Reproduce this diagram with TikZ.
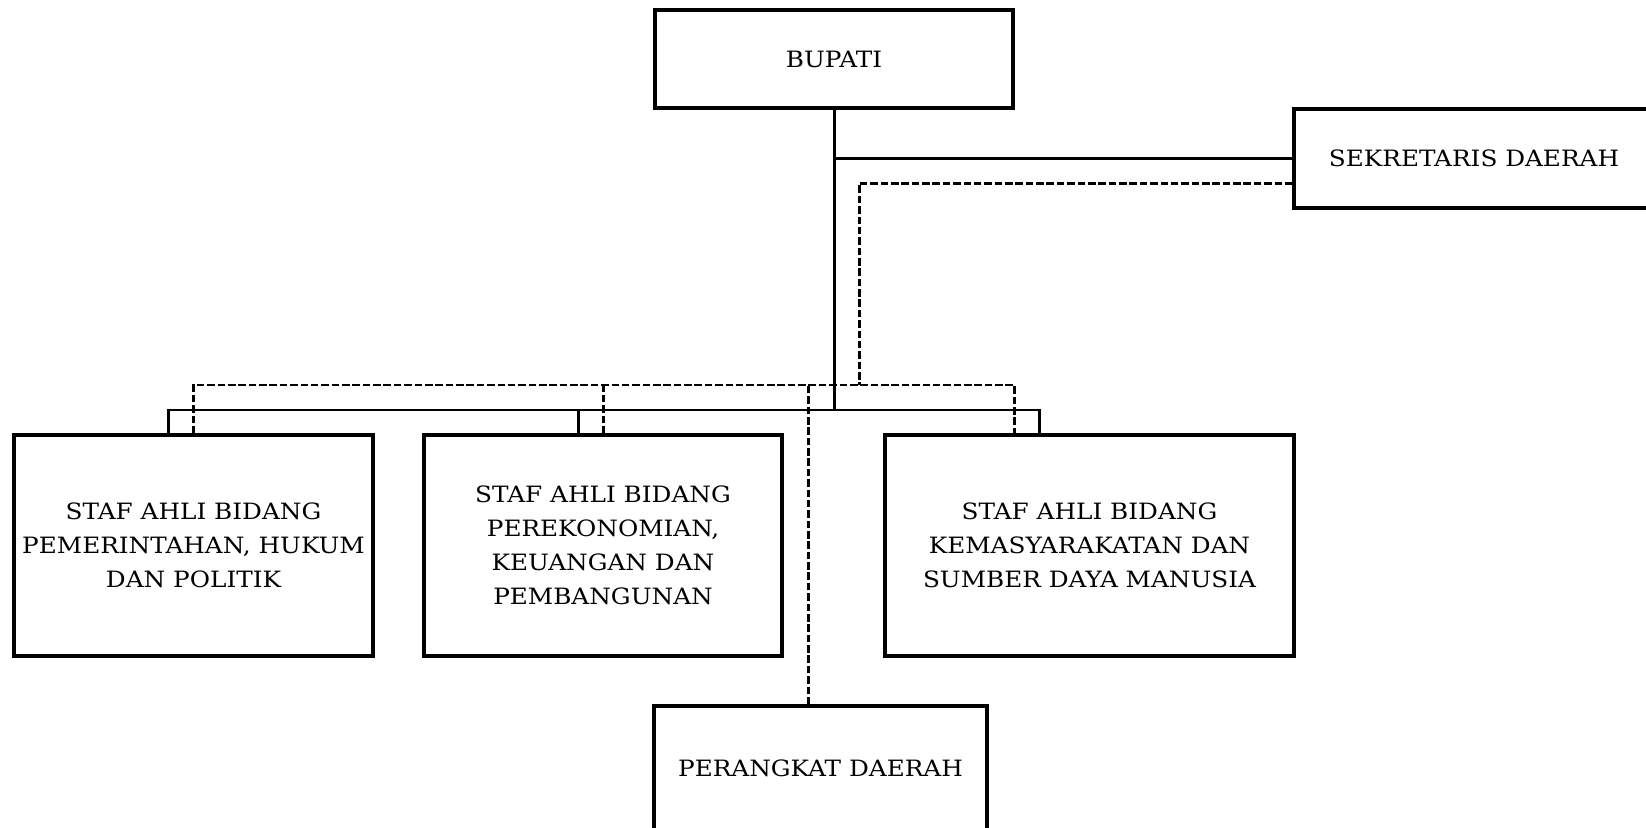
\documentclass[tikz,border=0pt]{standalone}
\usepackage{fontspec}
\setmainfont{DejaVu Serif}[FakeStretch=1.1]
\begin{document}
\begin{tikzpicture}[x=0.02cm,y=-0.02cm,
  box/.style={draw,line width=1.8pt,align=center,inner sep=0pt,
    font=\fontsize{12.8}{19.3}\selectfont},
  conn/.style={line width=1.7pt},
  dconn/.style={line width=1.7pt,dash pattern=on 4.3pt off 1.6pt}]
\useasboundingbox(0,0)rectangle(1646,828);
\node[box,minimum width=7.16cm,minimum height=1.96cm](bupati)at(834,59){BUPATI};
\node[box,minimum width=7.2cm,minimum height=1.98cm](sekda)at(1474,158.5){SEKRETARIS DAERAH};
\node[box,minimum width=7.18cm,minimum height=4.42cm](sa1)at(193.5,545.5){STAF AHLI BIDANG\\PEMERINTAHAN, HUKUM\\DAN POLITIK};
\node[box,minimum width=7.16cm,minimum height=4.42cm](sa2)at(603,545.5){STAF AHLI BIDANG\\PEREKONOMIAN,\\KEUANGAN DAN\\PEMBANGUNAN};
\node[box,minimum width=8.18cm,minimum height=4.42cm](sa3)at(1089.5,545.5){STAF AHLI BIDANG\\KEMASYARAKATAN DAN\\SUMBER DAYA MANUSIA};
\node[box,minimum width=6.66cm,minimum height=2.48cm](pd)at(820.5,768){PERANGKAT DAERAH};
\coordinate(bus)at(833,410);\coordinate(dbus)at(859,385);
\draw[conn](bupati.south)--(bupati.south|-bus);
\draw[conn](bupati.south|-sekda.west)--(sekda.west);
\draw[conn]([xshift=-5mm]sa1.north)|-([xshift=-1cm]sa3.north|-bus)--([xshift=-1cm]sa3.north);
\draw[conn]([xshift=-5mm]sa2.north)--([xshift=-5mm]sa2.north|-bus);
\draw[dconn]([yshift=-5mm]sekda.west)-|([xshift=5mm]bupati.south|-dbus);
\draw[dconn](sa1.north)|-([xshift=-1.5cm]sa3.north|-dbus)--([xshift=-1.5cm]sa3.north);
\draw[dconn](sa2.north)--(sa2.north|-dbus);
\draw[dconn]([xshift=-2.5mm]pd.north)--([xshift=-2.5mm]pd.north|-dbus);
\end{tikzpicture}
\end{document}
